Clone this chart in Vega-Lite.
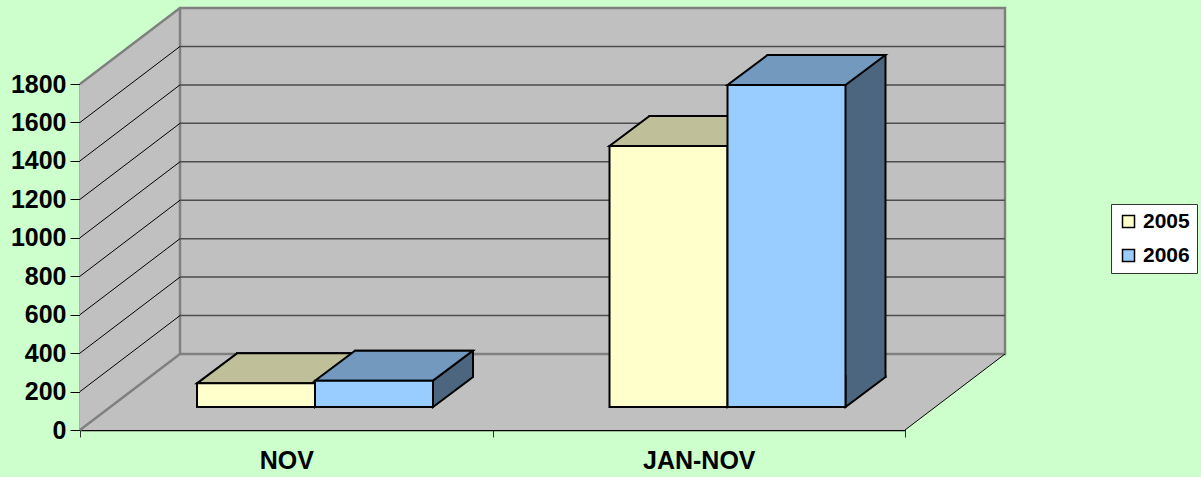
{
  "$schema": "https://vega.github.io/schema/vega-lite/v6.json",
  "width": 825,
  "height": 346,
  "autosize": {"type": "none"},
  "padding": {"left": 80, "top": 84, "right": 296, "bottom": 47},
  "background": "#CCFFCC",
  "config": {
    "view": {"stroke": null},
    "font": "Liberation Sans",
    "axis": {"grid": false, "zindex": 1},
    "axisX": {
      "labelAngle": 0, "labelFont": "Liberation Sans", "labelFontWeight": "bold", "labelFontSize": 25,
      "labelColor": "black", "tickBand": "extent", "tickSize": 7, "tickColor": "#333333",
      "domainColor": "black", "domainWidth": 1.5, "labelPadding": 11
    },
    "axisY": {
      "labelFont": "Liberation Sans", "labelFontWeight": "bold", "labelFontSize": 25, "labelColor": "black",
      "tickSize": 10, "tickColor": "black", "domainColor": "black", "domainWidth": 1.5, "labelPadding": 4,
      "labelOverlap": false, "format": "d"
    }
  },
  "resolve": {"scale": {"xOffset": "independent"}},
  "datasets": {
    "bars": [
      {"period": "NOV", "year": "2005", "value": 123},
      {"period": "NOV", "year": "2006", "value": 137},
      {"period": "JAN-NOV", "year": "2005", "value": 1358},
      {"period": "JAN-NOV", "year": "2006", "value": 1675}
    ],
    "grid": [{"v": 200}, {"v": 400}, {"v": 600}, {"v": 800}, {"v": 1000}, {"v": 1200}, {"v": 1400}, {"v": 1600}]
  },
  "layer": [
    {
      "data": {"values": [{}]},
      "mark": {"type": "point", "shape": "M-206.25,0 L-206.25,-346 L-106.25,-422 L718.75,-422 L718.75,-76 L618.75,0 Z", "size": 4, "filled": true, "fill": "#C0C0C0", "strokeWidth": 0, "opacity": 1},
      "encoding": {
        "x": {"datum": "NOV", "type": "nominal", "title": null, "scale": {"domain": ["NOV", "JAN-NOV"], "paddingInner": 0, "paddingOuter": 0}},
        "y": {"datum": 0, "type": "quantitative", "title": null, "scale": {"domain": [0, 1800], "nice": false}, "axis": {"values": [0, 200, 400, 600, 800, 1000, 1200, 1400, 1600, 1800], "labelOverlap": false, "format": "d"}}
      }
    },
    {
      "data": {"values": [{}]},
      "mark": {"type": "point", "shape": "M-106.25,-422 L718.75,-422 L718.75,-76 L-106.25,-76 Z M-206.25,-346 L-106.25,-422 M-206.25,0 L-106.25,-76", "size": 4, "filled": false, "stroke": "#808080", "strokeWidth": 2.5, "opacity": 1},
      "encoding": {
        "x": {"datum": "NOV", "type": "nominal", "title": null},
        "y": {"datum": 0, "type": "quantitative", "title": null, "axis": {"values": [0, 200, 400, 600, 800, 1000, 1200, 1400, 1600, 1800], "labelOverlap": false, "format": "d"}}
      }
    },
    {
      "data": {"values": [{}]},
      "mark": {"type": "point", "shape": "M618.75,0 L718.75,-76", "size": 4, "filled": false, "stroke": "black", "strokeWidth": 1, "opacity": 1},
      "encoding": {
        "x": {"datum": "NOV", "type": "nominal", "title": null},
        "y": {"datum": 0, "type": "quantitative", "title": null, "axis": {"values": [0, 200, 400, 600, 800, 1000, 1200, 1400, 1600, 1800], "labelOverlap": false, "format": "d"}}
      }
    },
    {
      "data": {"name": "grid"},
      "mark": {"type": "rule", "xOffset": 100, "x2Offset": 100, "yOffset": -76, "y2Offset": -76, "color": "#4D4D4D", "strokeWidth": 1.5},
      "encoding": {
        "x": {"value": 0},
        "x2": {"value": "width"},
        "y": {"field": "v", "type": "quantitative", "title": null, "axis": {"values": [0, 200, 400, 600, 800, 1000, 1200, 1400, 1600, 1800], "labelOverlap": false, "format": "d"}},
        "y2": {"field": "v"}
      }
    },
    {
      "data": {"name": "grid"},
      "mark": {"type": "rule", "x2Offset": 100, "y2Offset": -76, "color": "black", "strokeWidth": 1},
      "encoding": {
        "x": {"value": 0},
        "x2": {"value": 0},
        "y": {"field": "v", "type": "quantitative", "title": null, "axis": {"values": [0, 200, 400, 600, 800, 1000, 1200, 1400, 1600, 1800], "labelOverlap": false, "format": "d"}},
        "y2": {"field": "v"}
      }
    },
    {
      "data": {"name": "bars"},
      "mark": {"type": "bar", "yOffset": -53, "y2Offset": -53, "stroke": "black", "strokeWidth": 2, "opacity": 1},
      "encoding": {
        "x": {"field": "period", "type": "nominal", "sort": ["NOV", "JAN-NOV"], "title": null},
        "xOffset": {"field": "year", "type": "nominal", "scale": {"type": "band", "domain": ["2005", "2006"], "paddingInner": 0, "paddingOuter": 0.748, "align": 0.8895}},
        "y": {"field": "value", "type": "quantitative", "title": null, "axis": {"values": [0, 200, 400, 600, 800, 1000, 1200, 1400, 1600, 1800], "labelOverlap": false, "format": "d"}},
        "fill": {"condition": {"test": "datum.year === '2005'", "value": "#808066"}, "value": "#4C667F"}
      }
    },
    {
      "data": {"name": "bars"},
      "mark": {"type": "point", "shape": "M59,-55 L59,-23 L99,-53 L99,-55", "size": 4, "filled": true, "stroke": "black", "strokeWidth": 2, "opacity": 1},
      "encoding": {
        "x": {"field": "period", "type": "nominal", "sort": ["NOV", "JAN-NOV"], "title": null},
        "xOffset": {"field": "year", "type": "nominal", "scale": {"type": "band", "domain": ["2005", "2006"], "paddingInner": 0, "paddingOuter": 0.748, "align": 0.6629}},
        "y": {"datum": 0, "type": "quantitative", "title": null, "axis": {"values": [0, 200, 400, 600, 800, 1000, 1200, 1400, 1600, 1800], "labelOverlap": false, "format": "d"}},
        "fill": {"condition": {"test": "datum.year === '2005'", "value": "#808066"}, "value": "#4C667F"}
      }
    },
    {
      "data": {"name": "bars"},
      "mark": {"type": "point", "shape": "M-59,-23 L59,-23 L99,-53 L-19,-53 Z", "size": 4, "filled": true, "stroke": "black", "strokeWidth": 2, "opacity": 1},
      "encoding": {
        "x": {"field": "period", "type": "nominal", "sort": ["NOV", "JAN-NOV"], "title": null},
        "xOffset": {"field": "year", "type": "nominal", "scale": {"type": "band", "domain": ["2005", "2006"], "paddingInner": 0, "paddingOuter": 0.748, "align": 0.6629}},
        "y": {"field": "value", "type": "quantitative", "title": null, "axis": {"values": [0, 200, 400, 600, 800, 1000, 1200, 1400, 1600, 1800], "labelOverlap": false, "format": "d"}},
        "fill": {"condition": {"test": "datum.year === '2005'", "value": "#BFBF99"}, "value": "#7399BF"}
      }
    },
    {
      "data": {"name": "bars"},
      "mark": {"type": "bar", "yOffset": -23, "y2Offset": -23, "stroke": "black", "strokeWidth": 2, "opacity": 1},
      "encoding": {
        "x": {"field": "period", "type": "nominal", "sort": ["NOV", "JAN-NOV"], "title": null},
        "xOffset": {"field": "year", "type": "nominal", "scale": {"type": "band", "domain": ["2005", "2006"], "paddingInner": 0, "paddingOuter": 0.748, "align": 0.6629}},
        "y": {"field": "value", "type": "quantitative", "title": null, "axis": {"values": [0, 200, 400, 600, 800, 1000, 1200, 1400, 1600, 1800], "labelOverlap": false, "format": "d"}},
        "fill": {
          "field": "year", "type": "nominal",
          "scale": {"domain": ["2005", "2006"], "range": ["#FFFFCC", "#99CCFF"]},
          "legend": {
            "orient": "none", "legendX": 1031, "legendY": 120, "title": null,
            "symbolType": "square", "symbolSize": 144, "symbolStrokeColor": "black", "symbolStrokeWidth": 1.5,
            "labelFont": "Liberation Sans", "labelFontSize": 21, "labelFontWeight": "bold", "labelColor": "black",
            "padding": 7, "rowPadding": 12, "labelOffset": 4,
            "strokeColor": "#333333", "fillColor": "white"
          }
        }
      }
    }
  ]
}
